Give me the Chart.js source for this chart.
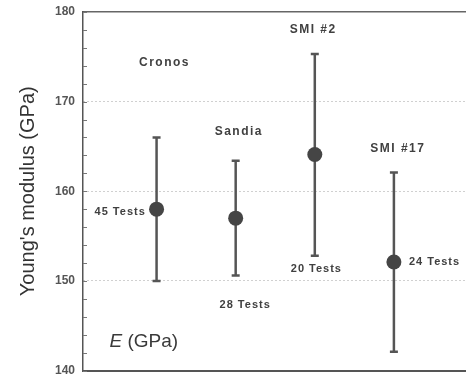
<!DOCTYPE html>
<html><head><meta charset="utf-8">
<script src="https://cdn.jsdelivr.net/npm/chart.js@4"></script>
<style>html,body{margin:0;padding:0;background:#fff}#wrap{width:473px;height:378px;position:relative}</style>
</head><body><div id="wrap"><canvas id="c" width="473" height="378"></canvas></div>
<script>
// ---- data ----
const categories = ['Cronos', 'Sandia', 'SMI #2', 'SMI #17'];
const testCounts = [45, 28, 20, 24];
const meanE  = [158.0, 157.0, 164.1, 152.1];
const upperE = [166.0, 163.4, 175.3, 162.1];
const lowerE = [150.0, 150.6, 152.8, 142.1];
const yTickValues = [140, 150, 160, 170, 180];
const yMinorStep = 2;
const yAxisTitle = "Young's modulus (GPa)";
const insideLabel = ['E', ' (GPa)'];

// ---- datasets built from the arrays ----
const xPos = categories.map((_, i) => i + 1);
const datasets = [{
  label: 'mean',
  data: xPos.map((x, i) => ({x, y: meanE[i]})),
  pointRadius: 7.5,
  pointBackgroundColor: '#454545',
  pointBorderColor: '#454545',
  pointBorderWidth: 0,
  showLine: false
}];
categories.forEach((c, i) => {
  datasets.push({
    label: c + ' range',
    data: [{x: xPos[i], y: lowerE[i]}, {x: xPos[i], y: upperE[i]}],
    showLine: true,
    borderColor: '#555',
    borderWidth: 2.5,
    pointStyle: 'line',
    pointRadius: 4,
    pointBorderWidth: 2.5,
    pointBorderColor: '#555'
  });
});

const FONT = "'Liberation Sans', Arial, sans-serif";

// text annotations anchored to data coordinates
const annotations = [
  {text: categories[0], x: xPos[0] + 0.10, y: 174.3, size: 12, bold: true, sp: 1.5, align: 'center'},
  {text: categories[1], x: xPos[1] + 0.04, y: 166.6, size: 12, bold: true, sp: 1.5, align: 'center'},
  {text: categories[2], x: xPos[2] - 0.02, y: 178.0, size: 12, bold: true, sp: 1.5, align: 'center'},
  {text: categories[3], x: xPos[3] + 0.05, y: 164.7, size: 12, bold: true, sp: 1.5, align: 'center'},
  {text: testCounts[0] + ' Tests', x: xPos[0] - 0.46, y: 157.7, size: 11, bold: true, sp: 1, align: 'center'},
  {text: testCounts[1] + ' Tests', x: xPos[1] + 0.12, y: 147.3, size: 11, bold: true, sp: 1, align: 'center'},
  {text: testCounts[2] + ' Tests', x: xPos[2] + 0.02, y: 151.3, size: 11, bold: true, sp: 1, align: 'center'},
  {text: testCounts[3] + ' Tests', x: xPos[3] + 0.19, y: 152.1, size: 11, bold: true, sp: 1, align: 'left'}
];

const decorPlugin = {
  id: 'decor',
  afterDraw(chart) {
    const {ctx, chartArea, scales} = chart;
    const xs = scales.x, ys = scales.y;
    ctx.save();
    // inner tick marks on the left axis
    ctx.strokeStyle = '#777';
    ctx.lineWidth = 1;
    ys.ticks.forEach(t => {
      const py = Math.round(ys.getPixelForValue(t.value)) + 0.5;
      ctx.beginPath();
      ctx.moveTo(chartArea.left, py);
      ctx.lineTo(chartArea.left + 4, py);
      ctx.stroke();
    });
    // text annotations
    ctx.fillStyle = '#404040';
    ctx.textBaseline = 'middle';
    annotations.forEach(a => {
      ctx.font = (a.bold ? 'bold ' : '') + a.size + 'px ' + FONT;
      if ('letterSpacing' in ctx) ctx.letterSpacing = a.sp + 'px';
      ctx.textAlign = a.align;
      ctx.fillText(a.text, xs.getPixelForValue(a.x), ys.getPixelForValue(a.y));
    });
    if ('letterSpacing' in ctx) ctx.letterSpacing = '0px';
    // "E (GPa)" label
    const ex = xs.getPixelForValue(0.405), ey = ys.getPixelForValue(143.2);
    ctx.textAlign = 'left';
    ctx.fillStyle = '#3a3a3a';
    ctx.font = 'italic 19px ' + FONT;
    ctx.fillText(insideLabel[0], ex, ey);
    const w = ctx.measureText(insideLabel[0]).width;
    ctx.font = '19px ' + FONT;
    ctx.fillText(insideLabel[1], ex + w, ey);
    ctx.restore();
  }
};

const zeroHeight = s => { s.height = 0; s.paddingLeft = 0; s.paddingRight = 0; s.paddingTop = 0; s.paddingBottom = 0; };

new Chart(document.getElementById('c'), {
  type: 'scatter',
  data: {datasets},
  options: {
    responsive: false,
    devicePixelRatio: 1,
    animation: false,
    events: [],
    layout: {padding: {top: 12, bottom: 6, left: 0, right: 0}},
    plugins: {legend: {display: false}, tooltip: {enabled: false}},
    scales: {
      x: {
        type: 'linear', position: 'bottom', min: 0.07, max: 4.905,
        ticks: {display: false}, grid: {display: false, drawTicks: false, tickLength: 0},
        border: {display: true, color: '#555', width: 2},
        afterFit: zeroHeight
      },
      x2: {
        type: 'linear', position: 'top', min: 0.07, max: 4.905,
        ticks: {display: false}, grid: {display: false, drawTicks: false, tickLength: 0},
        border: {display: true, color: '#666', width: 1.5},
        afterFit: zeroHeight
      },
      y: {
        min: yTickValues[0], max: yTickValues[yTickValues.length - 1],
        afterBuildTicks: s => {
          const t = [];
          for (let v = s.min; v <= s.max + 1e-9; v += yMinorStep) t.push({value: v});
          s.ticks = t;
        },
        ticks: {
          autoSkip: false,
          padding: 8,
          color: '#555',
          font: {family: FONT, size: 12, weight: 'bold'},
          callback: v => yTickValues.includes(v) ? String(v) : ''
        },
        grid: {
          drawTicks: false,
          lineWidth: 1,
          color: c => (c.tick && yTickValues.includes(c.tick.value) && c.tick.value !== yTickValues[0] && c.tick.value !== yTickValues[yTickValues.length - 1]) ? '#a0a0a0' : 'rgba(0,0,0,0)'
        },
        border: {display: true, color: '#555', width: 1.5, dash: [1, 3]},
        title: {display: true, text: yAxisTitle, color: '#333', font: {family: FONT, size: 20}, padding: {top: 16, bottom: 0}},
        afterFit: s => { s.width = 83; s.paddingTop = 0; s.paddingBottom = 0; }
      }
    }
  },
  plugins: [decorPlugin]
});
</script>
</body></html>
